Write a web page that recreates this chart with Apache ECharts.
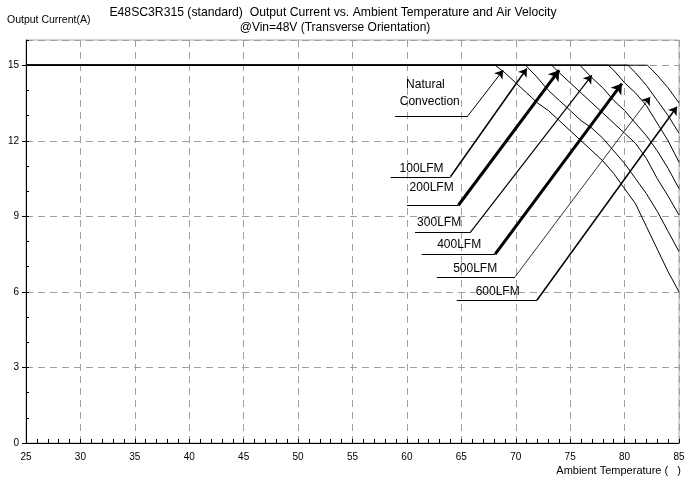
<!DOCTYPE html>
<html><head><meta charset="utf-8">
<script src="https://cdn.jsdelivr.net/npm/echarts@6/dist/echarts.min.js"></script>
<style>html,body{margin:0;padding:0;background:#fff}#c{width:693px;height:480px}</style>
</head><body><div id="c"></div>
<script>
// ---- data ----
const seriesNames = ['Natural Convection','100LFM','200LFM','300LFM','400LFM','500LFM','600LFM'];
const natural = [[25,15],[68.1,15],[69,14.7],[70,14.3],[71,13.9],[72,13.5],[73,13.2],[74,12.8],[75,12.4],[76,12.0],[77,11.6],[78,11.2],[79,10.7],[80,10.1],[81,9.5],[82,8.6],[83,7.7],[84,6.8],[85,6.0]];
const lfm100 = [[25,15],[70.9,15],[72,14.5],[73,14.0],[74,13.6],[75,13.2],[76,12.8],[77,12.5],[78,12.1],[79,11.6],[80,11.1],[81,10.5],[82,9.9],[83,9.2],[84,8.4],[85,7.6]];
const lfm200 = [[25,15],[73.3,15],[74,14.7],[75,14.3],[76,13.9],[77,13.5],[78,13.1],[79,12.7],[80,12.3],[81,11.9],[82,11.3],[83,10.5],[84,9.8],[85,9.05]];
const lfm300 = [[25,15],[75.9,15],[77,14.5],[78,14.1],[79,13.6],[80,13.2],[81,12.7],[82,12.2],[83,11.6],[84,10.9],[85,10.1]];
const lfm400 = [[25,15],[78.5,15],[79,14.8],[80,14.3],[81,13.9],[82,13.4],[83,12.7],[84,12.0],[85,11.15]];
const lfm500 = [[25,15],[80.3,15],[81,14.7],[82,14.2],[83,13.6],[84,13.0],[85,12.3]];
const lfm600 = [[25,15],[82.1,15],[83,14.6],[84,14.1],[85,13.5]];
const xTickLabels = [25,30,35,40,45,50,55,60,65,70,75,80,85];
const yTickLabels = [0,3,6,9,12,15];
const allSeries = [natural,lfm100,lfm200,lfm300,lfm400,lfm500,lfm600];

// ---- annotation layout (data coordinates) ----
const annotations = [
  {lines:['Natural','Convection'], textAt:[[61.7,14.21],[62.1,13.57]], hline:[58.9,65.6,12.99], tip:[68.84,14.80], w:1},
  {lines:['100LFM'], textAt:[[61.35,10.91]], hline:[58.5,64.0,10.57], tip:[71.02,14.87], w:1.5},
  {lines:['200LFM'], textAt:[[62.27,10.12]], hline:[60.0,64.73,9.44], tip:[73.99,14.80], w:3},
  {lines:['300LFM'], textAt:[[62.96,8.73]], hline:[60.75,65.81,8.35], tip:[76.99,14.60], w:1.2},
  {lines:['400LFM'], textAt:[[64.80,7.86]], hline:[61.37,68.11,7.50], tip:[79.75,14.27], w:3},
  {lines:['500LFM'], textAt:[[66.27,6.92]], hline:[62.75,69.94,6.60], tip:[82.35,13.74], w:0.8},
  {lines:['600LFM'], textAt:[[68.34,5.99]], hline:[64.58,71.94,5.67], tip:[84.81,13.35], w:1.5}
];

const FONT = '"Liberation Sans", Arial, sans-serif';
const chart = echarts.init(document.getElementById('c'), null, {renderer:'canvas'});

const markData = [];
annotations.forEach(a => {
  markData.push([{coord:[a.hline[0],a.hline[2]], symbol:'none', lineStyle:{width:1}},
                 {coord:[a.hline[1],a.hline[2]], symbol:'none'}]);
  markData.push([{coord:[a.hline[1],a.hline[2]], symbol:'none', lineStyle:{width:a.w}},
                 {coord:a.tip, symbol:'arrow', symbolSize: a.w >= 2 ? 10 : 8}]);
});

const series = allSeries.map((d,i) => ({
  name: seriesNames[i], type:'line', data:d, showSymbol:false, symbol:'none',
  lineStyle:{color:'#000', width:1}, itemStyle:{color:'#000'}, silent:true, z:3
}));
series[0].markLine = {
  silent:true, animation:false, symbol:['none','arrow'],
  label:{show:false}, lineStyle:{color:'#000', type:'solid', width:1},
  emphasis:{disabled:true}, data: markData
};

const option = {
  animation:false,
  backgroundColor:'#fff',
  grid:{left:26, right:14, top:40, bottom:37, show:true, borderColor:'#a8a8a8', borderWidth:1},
  xAxis:[{
    type:'value', min:25, max:85, interval:5,
    axisLine:{lineStyle:{color:'#000', width:1}},
    axisTick:{inside:true, length:4, lineStyle:{color:'#000'}},
    minorTick:{show:true, splitNumber:5, length:4, lineStyle:{color:'#000'}},
    axisLabel:{fontFamily:FONT, fontSize:10, color:'#000', margin:9,
      formatter: v => xTickLabels.indexOf(v) >= 0 ? String(v) : ''},
    splitLine:{show:true, lineStyle:{color:'#a0a0a0', type:[7,5], width:1}}
  }],
  yAxis:[{
    type:'value', min:0, max:16, interval:3,
    axisLine:{show:true, lineStyle:{color:'#000', width:1}},
    axisTick:{show:true, inside:false, length:4, lineStyle:{color:'#000'}},
    axisLabel:{fontFamily:FONT, fontSize:10, color:'#000', margin:7, showMaxLabel:false,
      formatter: v => yTickLabels.indexOf(v) >= 0 ? String(v) : ''},
    splitLine:{show:true, lineStyle:{color:'#a0a0a0', type:[7,5], width:1}}
  },{
    type:'value', min:0, max:16, interval:1, position:'left', offset:0,
    axisLine:{show:false}, axisLabel:{show:false}, splitLine:{show:false},
    axisTick:{show:true, inside:true, length:3, lineStyle:{color:'#000'}}
  }],
  series: series
};
chart.setOption(option);

// text elements placed through the chart's own coordinate conversion
const g = [];
g.push({type:'text', x:7, y:20, style:{text:'Output Current(A)', font:'10.5px '+FONT, fill:'#000', verticalAlign:'middle'}});
g.push({type:'text', x:333, y:13, style:{text:'E48SC3R315 (standard)  Output Current vs. Ambient Temperature and Air Velocity', font:'12.2px '+FONT, fill:'#000', align:'center', verticalAlign:'middle'}});
g.push({type:'text', x:335, y:28, style:{text:'@Vin=48V (Transverse Orientation)', font:'12px '+FONT, fill:'#000', align:'center', verticalAlign:'middle'}});
g.push({type:'text', x:681, y:471, style:{text:'Ambient Temperature (   )', font:'11px '+FONT, fill:'#000', align:'right', verticalAlign:'middle'}});
annotations.forEach(a => {
  a.lines.forEach((t,k) => {
    const p = chart.convertToPixel({gridIndex:0}, a.textAt[k]);
    g.push({type:'text', x:p[0], y:p[1], z:10, style:{text:t, font:'12px '+FONT, fill:'#000', align:'center', verticalAlign:'middle'}});
  });
});
chart.setOption({graphic:g});
</script></body></html>
